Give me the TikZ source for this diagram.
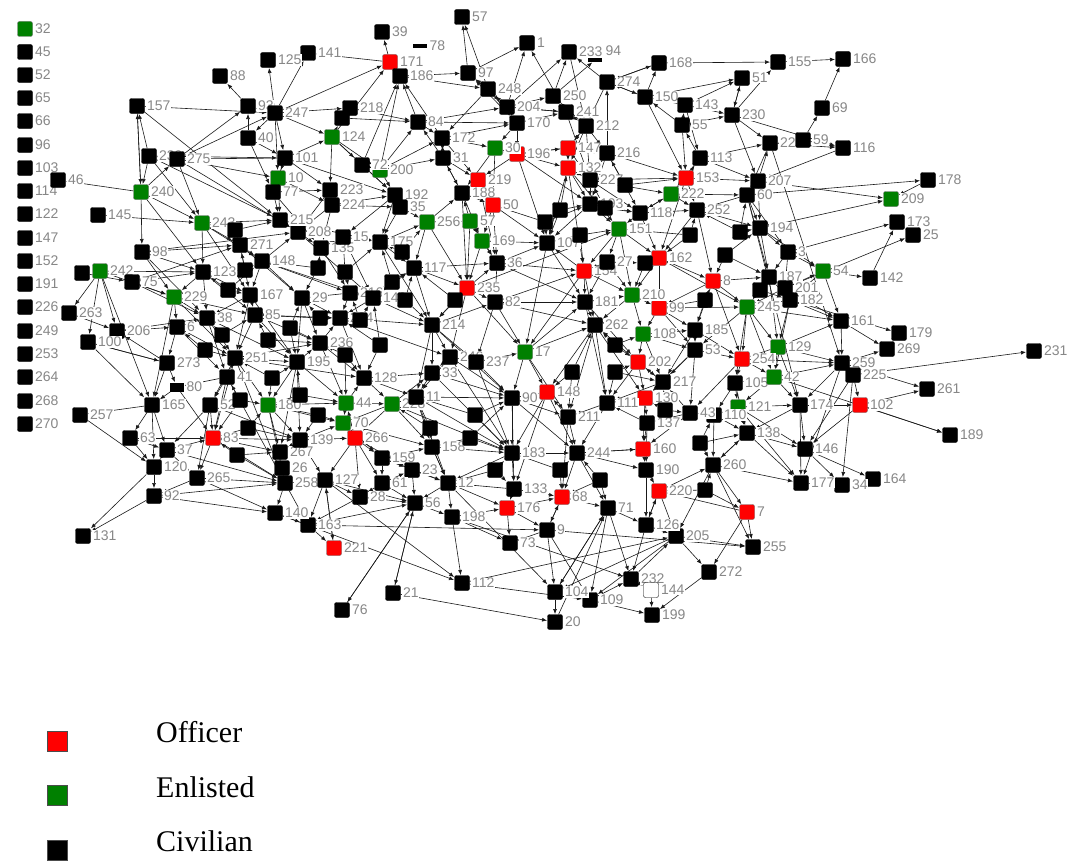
\documentclass[tikz,border=0pt]{standalone}
\usepackage{fontspec}
\setmainfont{Liberation Serif}
\newfontfamily\lblfont{Liberation Sans}
\usetikzlibrary{arrows.meta}
\pgfdeclarelayer{edges}
\pgfsetlayers{edges,main}
\definecolor{offred}{RGB}{255,0,0}
\definecolor{enlgreen}{RGB}{0,128,0}
\definecolor{lblgray}{RGB}{135,135,135}
\tikzset{
  vtx/.style={rectangle, minimum size=15pt, inner sep=0pt, rounded corners=2pt, draw=black, line width=0.4pt, fill=black},
  civ/.style={vtx},
  off/.style={vtx, fill=offred, draw=black!60},
  enl/.style={vtx, fill=enlgreen, draw=black!60},
  wht/.style={vtx, fill=white, draw=black},
  bar/.style={rectangle, minimum width=14pt, minimum height=4pt, inner sep=0pt, fill=black},
  lbl/.style={font=\lblfont\fontsize{14}{14}\selectfont, text=lblgray, fill=white, inner sep=0.6pt},
  link/.style={line width=0.6pt, draw=black!90, -{Latex[length=5pt,width=4pt]}, shorten >=0.3pt},
  keybox/.style={rectangle, minimum size=20pt, inner sep=0pt, draw=black!70, line width=0.6pt},
  keytext/.style={anchor=base west, inner sep=0pt, font=\fontsize{30}{32}\selectfont}
}
\newcommand\vx[5]{\node[#5, label={[lbl,label distance=1.5pt]0:#4}] (#1) at (#2,#3) {};}
\newcommand\vq[4]{\node[#4] (#1) at (#2,#3) {};}
\begin{document}
\begin{tikzpicture}[x=1pt,y=-1pt]
\useasboundingbox (0,0) rectangle (1078,867);

% isolated actors in a column
\vx{i32}{25}{29}{32}{enl}
\foreach \lab/\yy in {45/52,52/75,65/98,66/121,96/145,103/168,114/191,122/214,147/238,152/261,191/284,226/307,249/331,253/354,264/377,268/401,270/424}
  {\vx{i\lab}{25}{\yy}{\lab}{civ}}

% top and upper band
\vx{n57a}{462}{17}{57}{civ}
\vx{n39}{382}{32}{39}{civ}
\vx{n171}{390}{62}{171}{off}
\node[bar, label={[lbl,label distance=1.5pt]0:78}] (n78) at (420,46) {};
\vx{n1}{527}{43}{1}{civ}
\vx{n233}{569}{52}{233}{civ}
\node[bar, label={[lbl,label distance=4pt]20:94}] (n94) at (595,60) {};
\vx{n141}{308}{53}{141}{civ}
\vx{n125}{268}{60}{125}{civ}
\vx{n168}{659}{63}{168}{civ}
\vx{n155}{778}{62}{155}{civ}
\vx{n166}{843}{59}{166}{civ}
\vx{n88}{220}{76}{88}{civ}
\vx{n186}{400}{76}{186}{civ}
\vx{n97}{468}{73}{97}{civ}
\vx{n248}{488}{89}{248}{civ}
\vx{n274}{607}{82}{274}{civ}
\vx{n51}{742}{78}{51}{civ}
\vx{n69}{822}{108}{69}{civ}
\vx{n157}{137}{106}{157}{civ}
\vx{n93}{248}{106}{93}{civ}
\vx{n247}{275}{113}{247}{civ}
\vx{n218}{350}{108}{218}{civ}
\vq{n218b}{342}{118}{civ}
\vx{n84}{418}{122}{84}{civ}
\vx{n204}{507}{107}{204}{civ}
\vx{n250}{553}{96}{250}{civ}
\vx{n241}{566}{112}{241}{civ}
\vx{n150}{645}{97}{150}{civ}
\vx{n143}{685}{105}{143}{civ}
\vx{n230}{732}{115}{230}{civ}
\vx{n212}{586}{126}{212}{civ}
\vx{n55}{682}{125}{55}{civ}
\vx{n170}{517}{123}{170}{civ}
\vx{n172}{442}{138}{172}{civ}
\vx{n124}{332}{137}{124}{enl}
\vx{n40}{248}{138}{40}{civ}
\vx{n101}{285}{158}{101}{civ}
\vx{n239}{149}{156}{239}{civ}
\vx{n275}{177}{159}{275}{civ}
\vx{n240}{141}{192}{240}{enl}
\vx{n46}{58}{180}{46}{civ}
\vx{n145}{98}{215}{145}{civ}
\vx{n147}{568}{148}{147}{off}
\vx{n132}{568}{168}{132}{off}
\vx{n196}{517}{154}{196}{off}
\vx{n216a}{607}{153}{216}{civ}
\vx{n113}{700}{158}{113}{civ}
\vx{n207}{758}{181}{207}{civ}
\vx{n22}{770}{143}{22}{civ}
\vx{n59}{803}{140}{59}{civ}
\vx{n116}{843}{148}{116}{civ}
\vx{n153}{686}{178}{153}{off}
\vx{n222}{671}{194}{222}{enl}
\vx{n227}{590}{180}{227}{civ}
\vx{n193}{590}{204}{193}{civ}
\vx{n118}{640}{213}{118}{civ}
\vx{n252}{697}{210}{252}{civ}
\vx{n60}{747}{195}{60}{civ}
\vx{n30}{495}{148}{30}{enl}
\vx{n219}{478}{180}{219}{off}
\vx{n188}{462}{193}{188}{civ}
\vx{n50}{493}{205}{50}{off}
\vx{n31}{443}{158}{31}{civ}
\vx{n200}{380}{170}{200}{enl}
\vx{n72}{362}{165}{72}{civ}
\vx{n10}{278}{178}{10}{enl}
\vx{n77}{273}{192}{77}{civ}
\vx{n223}{330}{190}{223}{civ}
\vx{n224}{332}{205}{224}{civ}
\vx{n192}{395}{195}{192}{civ}
\vx{n35}{400}{207}{35}{civ}

% right side
\vx{n178}{928}{180}{178}{civ}
\vx{n209}{891}{199}{209}{enl}
\vx{n173}{897}{222}{173}{civ}
\vx{n25}{913}{235}{25}{civ}
\vx{n194}{760}{228}{194}{civ}
\vx{n3}{788}{252}{3}{civ}
\vx{n54}{823}{271}{54}{enl}
\vx{n142}{870}{278}{142}{civ}
\vx{n187}{769}{277}{187}{civ}
\vx{n201}{785}{288}{201}{civ}
\vx{n182}{790}{300}{182}{civ}
\vx{n161}{841}{321}{161}{civ}
\vx{n179}{899}{333}{179}{civ}
\vx{n269}{887}{349}{269}{civ}
\vx{n231}{1034}{351}{231}{civ}
\vx{n259}{842}{363}{259}{civ}
\vx{n225}{853}{375}{225}{civ}
\vx{n261}{927}{389}{261}{civ}
\vx{n102}{860}{405}{102}{off}
\vx{n189}{950}{435}{189}{civ}
\vx{n174}{800}{405}{174}{civ}
\vx{n146}{805}{449}{146}{civ}
\vx{n164}{873}{479}{164}{civ}
\vx{n34}{842}{485}{34}{civ}
\vx{n177}{801}{483}{177}{civ}

% middle right
\vx{n138}{747}{433}{138}{civ}
\vx{n129}{778}{347}{129}{enl}
\vx{n254}{742}{359}{254}{off}
\vx{n105}{735}{383}{105}{civ}
\vx{n42}{774}{377}{42}{enl}
\vx{n121}{738}{407}{121}{enl}
\vx{n110}{714}{415}{110}{civ}
\vx{n245}{747}{307}{245}{enl}
\vx{n185}{695}{330}{185}{civ}
\vx{n53}{695}{350}{53}{civ}
\vx{n262}{595}{325}{262}{civ}
\vx{n108}{643}{334}{108}{enl}
\vx{n99}{659}{308}{99}{off}
\vx{n210}{632}{295}{210}{enl}
\vx{n181}{585}{302}{181}{civ}
\vx{n154}{584}{271}{154}{off}
\vx{n162}{659}{258}{162}{off}
\vx{n8}{713}{281}{8}{off}
\vx{n27}{607}{262}{27}{civ}
\vq{n27b}{645}{263}{civ}
\vx{n151}{619}{229}{151}{enl}
\vx{n107}{547}{243}{107}{civ}
\vx{n202}{638}{362}{202}{off}
\vx{n217}{663}{382}{217}{civ}
\vx{n43}{690}{413}{43}{civ}
\vx{n130}{645}{398}{130}{off}
\vx{n137}{647}{423}{137}{civ}
\vx{n111}{607}{403}{111}{civ}
\vx{n211}{568}{417}{211}{civ}
\vx{n148r}{547}{392}{148}{off}

% lower band
\vx{n160}{643}{449}{160}{off}
\vx{n190}{646}{470}{190}{civ}
\vx{n220}{659}{491}{220}{off}
\vx{n260}{713}{465}{260}{civ}
\vx{n7}{747}{512}{7}{off}
\vx{n255}{753}{547}{255}{civ}
\vx{n205}{676}{536}{205}{civ}
\vx{n126}{646}{525}{126}{civ}
\vx{n71}{608}{508}{71}{civ}
\vx{n244}{577}{453}{244}{civ}
\vx{n68}{562}{497}{68}{off}
\vx{n176}{507}{508}{176}{off}
\vx{n73}{510}{543}{73}{civ}
\vx{n9}{547}{530}{9}{civ}
\vx{n133}{514}{489}{133}{civ}
\vx{n12}{448}{483}{12}{civ}
\vx{n183}{512}{453}{183}{civ}
\vx{n198}{452}{517}{198}{civ}
\vx{n56}{415}{503}{56}{civ}
\vx{n232}{631}{579}{232}{civ}
\vx{n144}{651}{590}{144}{wht}
\vx{n199}{652}{615}{199}{civ}
\vx{n109}{590}{600}{109}{civ}
\vx{n104}{555}{592}{104}{civ}
\vx{n20}{555}{622}{20}{civ}
\vx{n272}{709}{572}{272}{civ}
\vx{n112}{462}{583}{112}{civ}
\vx{n21}{393}{593}{21}{civ}
\vx{n76}{342}{610}{76}{civ}
\vx{n221}{334}{548}{221}{off}
\vx{n163}{308}{525}{163}{civ}
\vx{n140}{275}{513}{140}{civ}
\vx{n258}{285}{483}{258}{civ}
\vx{n127}{325}{480}{127}{civ}
\vx{n267}{280}{452}{267}{civ}
\vx{n26}{282}{468}{26}{civ}
\vx{n139}{300}{440}{139}{civ}
\vx{n266}{355}{438}{266}{off}
\vx{n158}{432}{447}{158}{civ}
\vx{n159}{382}{458}{159}{civ}
\vx{n23}{412}{470}{23}{civ}
\vx{n61}{382}{483}{61}{civ}
\vx{n28}{360}{497}{28}{civ}

% left side
\vx{n131}{83}{536}{131}{civ}
\vx{n92}{154}{496}{92}{civ}
\vx{n120}{154}{467}{120}{civ}
\vx{n265}{197}{478}{265}{civ}
\vx{n83}{213}{438}{83}{off}
\vx{n63}{130}{438}{63}{civ}
\vx{n37}{167}{450}{37}{civ}
\vx{n257}{80}{415}{257}{civ}
\vx{n165}{152}{405}{165}{civ}
\node[bar, minimum height=9pt, label={[lbl,label distance=1.5pt]0:80}] (n80) at (177,387) {};
\vx{n273}{167}{363}{273}{civ}
\vx{n206}{117}{331}{206}{civ}
\vx{n100}{88}{342}{100}{civ}
\vx{n263}{69}{313}{263}{civ}
\vq{n242b}{82}{273}{civ}
\vx{n242}{100}{271}{242}{enl}
\vx{n75}{132}{282}{75}{civ}
\vx{n229}{174}{297}{229}{enl}
\vx{n98}{142}{252}{98}{civ}
\vx{n243}{202}{223}{243}{enl}
\vx{n38}{207}{318}{38}{civ}
\vx{n6}{177}{327}{6}{civ}
\vx{n251}{235}{358}{251}{civ}
\vx{n41}{227}{377}{41}{civ}
\vx{n52}{210}{405}{52}{civ}
\vx{n123}{203}{272}{123}{civ}
\vx{n271}{240}{245}{271}{civ}
\vx{n167}{250}{295}{167}{civ}
\vx{n85}{255}{315}{85}{civ}

% centre
\vx{n180}{268}{405}{180}{enl}
\vx{n44}{346}{403}{44}{enl}
\vx{n70}{343}{423}{70}{enl}
\vx{n228}{392}{404}{228}{enl}
\vx{n128}{364}{378}{128}{civ}
\vx{n195}{297}{362}{195}{civ}
\vx{n236}{320}{343}{236}{civ}
\vx{n234}{340}{318}{234}{civ}
\vx{n216b}{350}{293}{216}{civ}
\vx{n29}{302}{298}{29}{civ}
\vx{n149}{373}{298}{149}{civ}
\vx{n214}{432}{325}{214}{civ}
\vx{n235}{467}{288}{235}{off}
\vx{n82}{495}{302}{82}{civ}
\vx{n117}{414}{268}{117}{civ}
\vx{n169}{482}{241}{169}{enl}
\vx{n36}{497}{263}{36}{civ}
\vx{n175}{380}{242}{175}{civ}
\vx{n256}{427}{222}{256}{enl}
\vx{n57b}{470}{221}{57}{enl}
\vx{n135}{321}{248}{135}{civ}
\vx{n15}{343}{237}{15}{civ}
\vx{n208}{298}{232}{208}{civ}
\vx{n215}{280}{220}{215}{civ}
\vx{n148}{262}{261}{148}{civ}
\vx{n246}{450}{357}{246}{civ}
\vx{n237}{476}{362}{237}{civ}
\vx{n17}{525}{352}{17}{enl}
\vx{n90}{512}{398}{90}{civ}
\vx{n33}{432}{373}{33}{civ}
\vx{n11}{416}{397}{11}{civ}

% unlabelled actors in the crowded core
\foreach \k/\xx/\yy in {1/235/230,2/318/268,3/345/272,4/392/282,5/320/318,6/380/345,7/405/300,8/245/270,9/228/290,10/222/335,11/205/350,12/268/340,13/290/328,14/272/378,15/240/400,16/300/395,17/318/415,18/470/438,19/495/470,20/560/210,21/605/208,22/545/222,23/625/185,24/580/235,25/690/235,26/740/232,27/725/255,28/760/290,29/705/300,30/615/345,31/572/372,32/615/372,33/665/410,34/700/443,35/705/490,36/600/480,37/560/470,38/475/415,39/430/428,40/248/428,41/237/455,42/345/355,43/360/320,44/402/252,45/455/300}
  {\vq{f\k}{\xx}{\yy}{civ}}

% ties between actors
\begin{pgfonlayer}{edges}
\foreach \a/\b in {
 n168/n155,n155/n166,n69/n166,n59/n116,n22/n116,n230/n116,n59/n69,n60/n178,n207/n209,n194/n209,n3/n173,n201/n25,n142/n173,n54/n142,
 n182/n161,n201/n161,n161/n269,n259/n269,n182/n179,n225/n231,n259/n261,n102/n261,n225/n102,n102/n189,n42/n189,n146/n34,n146/n164,
 n177/n34,n174/n102,n225/n34,n60/n174,n22/n259,n174/n146,n138/n177,n260/n177,n121/n146,n259/n225,n259/n174,n161/n259,n129/n259,
 n7/n255,n205/n255,n260/n255,n9/n255,n205/n272,n272/n199,n109/n199,n144/n199,n232/n144,n20/n71,n104/n71,n126/n232,n112/n205,
 n21/n20,n56/n76,n56/n21,n127/n112,n163/n9,n198/n232,n12/n104,n104/n20,n9/n109,n71/n109,n205/n104,
 n120/n131,n92/n131,n120/n92,n265/n92,n83/n265,n37/n83,n63/n83,n63/n120,n165/n257,n273/n100,n242/n263,n242/n100,n100/n165,
 n229/n165,n242/n165,n240/n157,n157/n240,n239/n157,n239/n240,n275/n239,n275/n93,n240/n46,n93/n88,n240/n275,n242/n229,
 n157/n247,n240/n243,n275/n243,n275/n247,n239/n101,n145/n243,n206/n38,n273/n206,n92/n258,n265/n258,n242b/n75,
 n171/n39,n97/n57a,n186/n171,n247/n171,n247/n141,n247/n125,n84/n186,n172/n186,n248/n97,n204/n1,n250/n233,n274/n233,
 n150/n168,n274/n168,n150/n51,n143/n51,n230/n51,n230/n155,n55/n150,n113/n55,n212/n250,n147/n212,n216a/n274,n204/n248,
 n31/n84,n171/n141,n124/n171,n72/n186,n200/n186,n97/n1,n241/n1,n250/n94,n204/n233,n170/n97,n248/n57a,
 n243/n271,n243/n123,n243/n148,n243/n215,n98/n229,n98/n123,n98/n271,n123/n229,n123/n38,n123/n167,n229/n38,n229/n6,
 n229/n251,n75/n229,n75/n123,n75/n271,n271/n148,n271/n167,n148/n167,n148/n208,n148/n216b,n148/n29,n167/n85,n167/n38,
 n167/n251,n85/n251,n85/n236,n85/n195,n85/n234,n38/n6,n38/n251,n38/n41,n6/n273,n6/n41,n251/n41,n251/n52,n251/n195,
 n251/n236,n251/n180,n251/n83,n251/n258,n41/n52,n41/n80,n41/n83,n52/n83,n52/n37,n52/n265,n83/n258,n83/n139,n273/n80,
 n80/n165,n165/n63,n165/n37,n37/n120,n37/n265,n195/n236,n195/n180,n195/n139,n195/n267,n236/n234,n236/n128,n180/n139,
 n180/n267,n180/n258,n180/n44,n139/n267,n139/n127,n139/n266,n267/n26,n26/n258,n258/n140,n258/n127,n127/n163,n127/n221,
 n127/n28,n266/n159,n266/n127,n266/n28,n266/n61,n44/n70,n44/n228,n44/n128,n70/n266,n70/n159,n228/n158,n228/n11,n228/n33,
 n228/n266,n128/n33,n128/n228,n159/n23,n159/n61,n159/n158,n61/n28,n61/n56,n61/n23,n23/n56,n23/n12,n158/n183,n158/n12,
 n28/n163,n140/n112,n163/n221,n221/n127,
 n247/n101,n247/n40,n247/n93,n247/n218,n247/n124,n40/n101,n40/n93,n101/n10,n101/n77,n101/n124,n101/n223,n101/n275,
 n10/n77,n10/n215,n77/n215,n77/n223,n223/n224,n223/n208,n224/n192,n224/n35,n224/n208,n224/n135,n124/n218b,n124/n200,
 n124/n72,n124/n223,n218/n218b,n218/n84,n218b/n84,n72/n200,n72/n192,n200/n192,n200/n31,n200/n172,n200/n84,n192/n35,
 n192/n175,n192/n15,n35/n175,n35/n256,n215/n208,n208/n135,n135/n15,n135/n216b,n15/n175,n15/n149,n175/n117,n175/n256,
 n256/n117,n256/n57b,n256/n188,n57b/n169,n57b/n188,n169/n36,n169/n235,n188/n219,n188/n50,n188/n31,n31/n172,n31/n219,
 n172/n30,n172/n170,n172/n219,n84/n172,n84/n170,n84/n204,n186/n97,n186/n248,
 n216b/n149,n216b/n29,n216b/n234,n29/n234,n29/n236,n29/n195,n149/n214,n149/n117,n149/n234,n234/n128,n234/n214,n234/n246,
 n117/n214,n117/n235,n214/n246,n214/n33,n214/n11,n214/n237,n214/n82,n235/n82,n235/n36,n235/n214,n235/n246,n82/n237,n82/n17,
 n82/n181,n36/n107,n36/n82,n246/n237,n246/n33,n246/n11,n237/n17,n237/n90,n17/n90,n17/n148r,n17/n262,n90/n183,n90/n211,
 n90/n148r,n11/n158,n11/n90,n33/n11,
 n204/n170,n204/n250,n204/n241,n170/n196,n170/n241,n170/n30,n30/n196,n30/n50,n196/n147,n196/n132,n196/n219,n147/n132,
 n147/n216a,n132/n227,n132/n193,n132/n107,n241/n212,n241/n250,n212/n216a,n212/n227,n216a/n227,n216a/n118,n216a/n153,
 n227/n193,n227/n118,n227/n222,n193/n151,n193/n118,n193/n107,n118/n151,n118/n222,n118/n252,n222/n153,n222/n252,n222/n60,
 n153/n113,n153/n207,n113/n207,n113/n22,n55/n143,n55/n230,n55/n153,n143/n150,n143/n230,n230/n22,n230/n207,n207/n60,
 n207/n22,n22/n60,n60/n252,n60/n194,n60/n3,n252/n194,n252/n162,n252/n8,n194/n3,n194/n187,n3/n187,n3/n201,n187/n201,
 n187/n182,n187/n245,n201/n182,n201/n54,n54/n161,n54/n182,n182/n245,n182/n129,n151/n27,n151/n162,n151/n154,n27/n27b,
 n27/n154,n27/n181,n27b/n162,n27b/n210,n162/n8,n162/n99,n162/n210,n8/n245,n8/n185,n8/n99,n8/n187,n154/n181,n154/n107,
 n154/n262,n181/n262,n181/n210,n181/n202,n210/n99,n210/n108,n99/n108,n99/n185,n99/n245,n108/n202,n108/n185,n108/n53,
 n185/n53,n185/n254,n53/n217,n53/n254,n53/n43,n245/n129,n245/n254,n245/n42,n129/n42,n129/n254,n254/n105,n254/n42,
 n42/n121,n42/n174,n105/n121,n105/n110,n121/n138,n121/n110,n121/n174,n110/n43,n110/n138,n43/n217,n43/n137,n217/n130,
 n217/n202,n217/n111,n202/n111,n202/n130,n202/n262,n262/n111,n262/n211,n262/n148r,n111/n130,n111/n211,n130/n137,
 n137/n160,n137/n111,n211/n148r,n211/n244,n148r/n183,n148r/n244,
 n183/n12,n183/n133,n183/n244,n133/n176,n133/n12,n133/n68,n12/n198,n12/n176,n12/n56,n198/n176,n198/n73,n198/n112,
 n176/n73,n176/n9,n176/n68,n9/n73,n9/n68,n9/n104,n244/n68,n244/n160,n244/n71,n68/n71,n68/n9,n160/n190,n160/n244,
 n190/n220,n190/n126,n220/n126,n220/n205,n220/n260,n260/n7,n260/n138,n260/n205,n7/n272,n71/n126,n71/n104,n71/n232,
 n126/n205,n205/n109,n163/n56,n56/n198,
 f1/n243,f1/n215,f1/n271,f2/n135,f2/n148,f2/n29,f3/n15,f3/n216b,f3/n175,f4/n149,f4/n117,f4/n175,f5/n29,f5/n234,f5/n85,
 f6/n234,f6/n128,f6/n149,f7/n149,f7/n214,f7/n117,f8/n271,f8/n148,f8/n123,f9/n167,f9/n123,f9/n148,f10/n38,f10/n85,
 f11/n251,f11/n6,f12/n85,f12/n236,f13/n236,f13/n195,f13/n29,f14/n195,f14/n251,f14/n180,f15/n180,f15/n41,f15/n83,
 f16/n180,f16/n44,f16/n195,f17/n70,f17/n139,f17/n180,f18/n158,f18/n183,f18/n90,f19/n183,f19/n133,f19/n12,f20/n132,
 f20/n193,f20/n107,f21/n193,f21/n118,f21/n227,f22/n107,f22/n50,f22/n193,f23/n227,f23/n216a,f23/n153,f24/n151,f24/n154,
 f24/n107,f25/n252,f25/n162,f25/n151,f26/n194,f26/n60,f26/n252,f27/n8,f27/n187,f27/n194,f28/n187,f28/n245,f28/n182,
 f29/n8,f29/n185,f29/n99,f30/n108,f30/n202,f30/n262,f31/n262,f31/n148r,f31/n211,f32/n202,f32/n111,f32/n217,f33/n217,
 f33/n43,f33/n130,f34/n138,f34/n260,f34/n110,f35/n260,f35/n220,f35/n7,f36/n71,f36/n68,f36/n244,f37/n244,f37/n68,f37/n183,
 f38/n90,f38/n11,f38/n183,f39/n228,f39/n158,f39/n11,f40/n83,f40/n139,f40/n180,f41/n83,f41/n258,f41/n267,f42/n128,f42/n236,
 f42/n44,f43/n234,f43/n149,f43/n216b,f44/n175,f44/n256,f44/n117,f45/n235,f45/n214,f45/n117,
 n188/n235,n50/n107,n219/n50,n36/n154,n17/n181,n90/n244,n33/n90,n158/n12,n266/n44,n228/n70,n11/n183,
 n235/n151,n82/n154,n169/n107,n57b/n36,n50/n36,n132/n154,n147/n196,n222/n118,n153/n252,n153/n162,n245/n53,n42/n105,
 n138/n260,n174/n138,n102/n146,n225/n146,n259/n177,n7/n220,n126/n220,n232/n205,n109/n232,n112/n109,n21/n56,n76/n56,
 n172/n31,n241/n204,n212/n147,n274/n212,n150/n274,n168/n274,n143/n113,n51/n230,n59/n22,n116/n207,n178/n209,
 n239/n243,n275/n10,n240/n98,n240/n123,n247/n10,n40/n77,n124/n192,n101/n192,n10/n224,n77/n135,n215/n175,n208/n149,
 n148/n149,n271/n29,n123/n85,n167/n195,n38/n195,n6/n251,n229/n85,n98/n38,n75/n38,n243/n167,n251/n128,n195/n44,n236/n44,
 n180/n70,n139/n70,n83/n267,n41/n258,n52/n139,n265/n140,n92/n140,n37/n258,n258/n163,n140/n163,n127/n56,n28/n56,
 n159/n12,n266/n23,n70/n158,n228/n183,n11/n12,n33/n183,n128/n11,n246/n90,n237/n183,n17/n211,n90/n133,n148r/n133,
 n211/n68,n244/n190,n111/n244,n137/n190,n130/n160,n202/n217,n262/n130,n181/n111,n154/n17,n107/n17,n107/n181,n36/n181,
 n235/n17,n82/n262,n214/n90,n246/n183,n117/n36,n175/n214,n256/n235,n57b/n235,n188/n169,n50/n169,n219/n36,n196/n107,
 n30/n188,n31/n188,n248/n172,n97/n204,n248/n170,n233/n212,n274/n150,n241/n227,n212/n132,n216a/n193,n227/n153,
 n118/n162,n151/n210,n27/n210,n162/n245,n8/n254,n113/n222,n150/n153,n207/n194,n60/n187,n3/n54,n194/n54,n187/n129,
 n201/n245,n182/n42,n245/n105,n185/n217,n53/n130,n254/n43,n105/n138,n110/n260,n43/n160,n138/n146,n174/n177,n121/n177,
 n129/n174,n42/n259,n254/n259,n129/n161,n245/n161,n99/n53,n108/n217,n210/n262,n154/n210,n132/n151,n147/n227,n196/n193,
 n157/n215,n239/n215,n275/n208,n98/n208,n242/n123,n263/n206,n100/n273,n206/n6,n257/n120,n165/n120,n63/n37,n273/n165,
 n80/n83,n242/n206}
  {\draw[link] (\a) -- (\b);}
\end{pgfonlayer}

% key
\node[keybox, fill=offred] (kOff) at (57,741) {};
\node[keybox, fill=enlgreen] (kEnl) at (57,795) {};
\node[keybox, fill=black] (kCiv) at (57,850) {};
\node[keytext] (tOff) at (156,742) {Officer};
\node[keytext] (tEnl) at (156,797) {Enlisted};
\node[keytext] (tCiv) at (156,851) {Civilian};
\end{tikzpicture}
\end{document}
